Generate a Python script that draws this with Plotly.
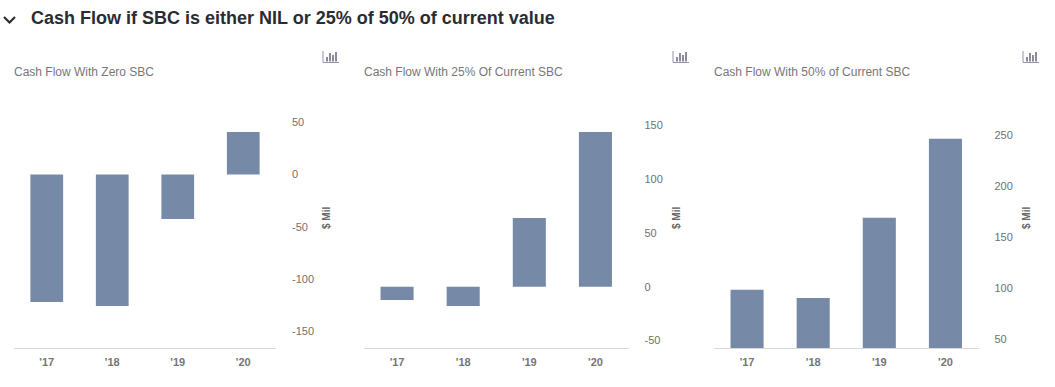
import plotly.graph_objects as go

W, H = 1055, 387
categories = ["'17", "'18", "'19", "'20"]
zero_sbc = [-122, -125.7, -42.5, 40.8]
sbc_25 = [-12.4, -18, 64, 143.9]
sbc_50 = [98, 90, 168.6, 246]
series = [zero_sbc, sbc_25, sbc_50]
titles = ["Cash Flow With Zero SBC", "Cash Flow With 25% Of Current SBC", "Cash Flow With 50% of Current SBC"]
tick_sets = [[50, 0, -50, -100, -150], [150, 100, 50, 0, -50], [250, 200, 150, 100, 50]]
ranges = [[-165.9, 71.4], [-57, 173.7], [41, 284]]
lefts = [14, 364, 714]
widths = [262, 264.5, 264.5]
TOP, BOT = 100, 348
main_title = "Cash Flow if SBC is either NIL or 25% of 50% of current value"

fig = go.Figure()
annotations, shapes = [], []
def px(x): return x / W
def py(y): return 1 - y / H

for i, (vals, left) in enumerate(zip(series, lefts)):
    n = "" if i == 0 else str(i + 1)
    fig.add_trace(go.Bar(x=categories, y=vals, marker=dict(color="#7689a6", line_width=0),
                         xaxis="x" + n, yaxis="y" + n, showlegend=False))
    fig.update_layout({
        "xaxis" + n: dict(domain=[px(left), px(left + widths[i])], anchor="y" + n, type="category",
                          range=[-0.5, 3.5], showgrid=False, zeroline=False, showline=True,
                          linecolor="#d8d8d8", linewidth=1, ticks="",
                          tickfont=dict(family="Liberation Sans", size=11, color="#757575", weight="bold"),
                          ticklabelstandoff=4),
        "yaxis" + n: dict(domain=[py(BOT), py(TOP)], anchor="x" + n, side="right", range=ranges[i],
                          tickvals=tick_sets[i], ticktext=[str(t) for t in tick_sets[i]],
                          showgrid=False, zeroline=False, showline=False, ticks="",
                          tickfont=dict(family="Liberation Sans", size=11, color="#707070"),
                          ticklabelstandoff=15),
    })
    annotations.append(dict(text=titles[i], xref="paper", yref="paper", x=px(left - 2), y=py(72),
                            xanchor="left", yanchor="middle", showarrow=False,
                            font=dict(family="Liberation Sans", size=12, color="#777777")))
    annotations.append(dict(text="$ Mil", xref="paper", yref="paper", x=px(left + 312), y=py(218),
                            xanchor="center", yanchor="middle", showarrow=False, textangle=-90,
                            font=dict(family="Liberation Sans", size=10, color="#666666", weight="bold")))
    # small chart icon
    ix = left + 309
    shapes.append(dict(type="path", xref="paper", yref="paper",
                       path=f"M {px(ix)} {py(51)} L {px(ix)} {py(62.5)} L {px(ix+16)} {py(62.5)}",
                       line=dict(color="#9a8fb0", width=1)))
    for dx, top in [(4, 57), (7, 53), (10, 55), (13, 52)]:
        shapes.append(dict(type="line", xref="paper", yref="paper", x0=px(ix + dx), x1=px(ix + dx),
                           y0=py(61.5), y1=py(top), line=dict(color="#8a8a9a", width=2)))

annotations.append(dict(text=main_title, xref="paper", yref="paper", x=px(29), y=py(18),
                        xanchor="left", yanchor="middle", showarrow=False,
                        font=dict(family="Liberation Sans", size=18, color="#2b2b33", weight="bold")))
shapes.append(dict(type="path", xref="paper", yref="paper",
                   path=f"M {px(4)} {py(17)} L {px(9.5)} {py(22.5)} L {px(15)} {py(17)}",
                   line=dict(color="#2b2b33", width=2.2)))

fig.update_layout(width=W, height=H, margin=dict(l=0, r=0, t=0, b=0), bargap=0.5,
                  paper_bgcolor="white", plot_bgcolor="white",
                  annotations=annotations, shapes=shapes)
fig.write_html("out.html", config=dict(displayModeBar=False),
               post_script="document.body.style.margin='0';document.documentElement.style.overflow='hidden';")
